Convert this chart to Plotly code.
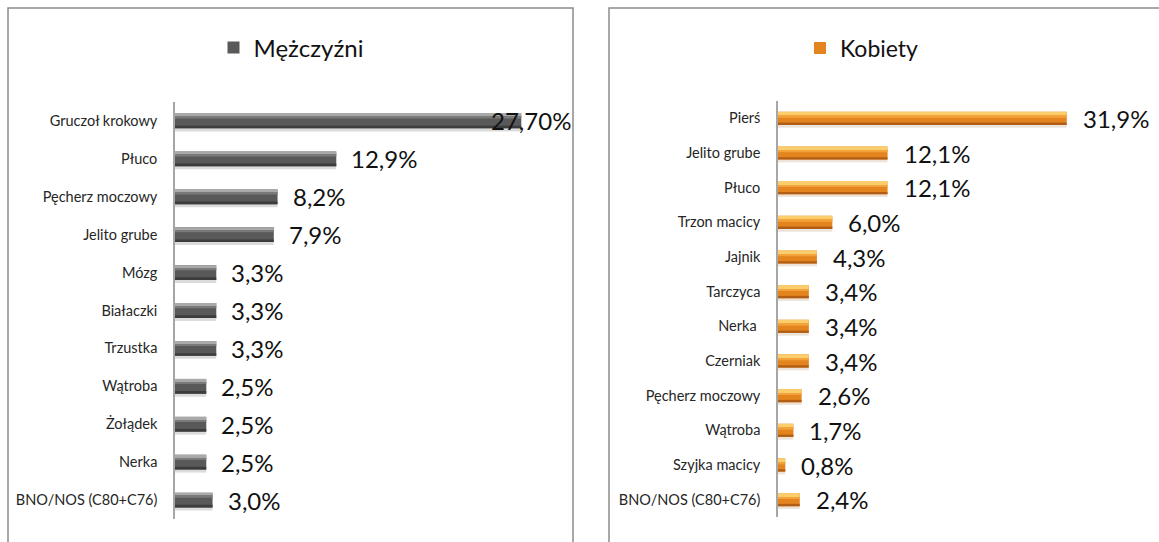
import plotly.graph_objects as go

# ---- data ----
men_categories = ["Gruczoł krokowy", "Płuco", "Pęcherz moczowy", "Jelito grube", "Mózg",
                  "Białaczki", "Trzustka", "Wątroba", "Żołądek", "Nerka", "BNO/NOS (C80+C76)"]
men_values = [27.7, 12.9, 8.2, 7.9, 3.3, 3.3, 3.3, 2.5, 2.5, 2.5, 3.0]
men_labels = ["27,70%", "12,9%", "8,2%", "7,9%", "3,3%", "3,3%", "3,3%", "2,5%", "2,5%", "2,5%", "3,0%"]

women_categories = ["Pierś", "Jelito grube", "Płuco", "Trzon macicy", "Jajnik", "Tarczyca",
                    "Nerka ", "Czerniak", "Pęcherz moczowy", "Wątroba", "Szyjka macicy", "BNO/NOS (C80+C76)"]
women_values = [31.9, 12.1, 12.1, 6.0, 4.3, 3.4, 3.4, 3.4, 2.6, 1.7, 0.8, 2.4]
women_labels = ["31,9%", "12,1%", "12,1%", "6,0%", "4,3%", "3,4%", "3,4%", "3,4%", "2,6%", "1,7%", "0,8%", "2,4%"]

series_names = ["Mężczyźni", "Kobiety"]

# ---- styling ----
W, H = 1159, 542
FONT = "Lato, Carlito, Calibri, sans-serif"

styles = [
    dict(bw=0.39, body="#595959", top="#a9a9a9", topf=0.22, mid="#7a7a7a", midf=0.12,
         bottom="#3c3c3c", botf=0.18, shadow="rgba(0,0,0,0.14)"),
    dict(bw=0.38, body="#e3841f", top="#fbcd6c", topf=0.30, mid="#f2a33a", midf=0.15,
         bottom="#b25e16", botf=0.18, shadow="rgba(120,60,0,0.14)"),
]

# pixel geometry of plot areas
areas = [
    dict(x0=175, x1=175 + 30 * 12.5, y0=102, y1=519, xmax=30),
    dict(x0=778, x1=778 + 36 * 9.05, y0=101, y1=517, xmax=36),
]

fig = go.Figure()

datasets = [(men_categories, men_values, men_labels), (women_categories, women_values, women_labels)]

annotations = []
for i, (cats, vals, labs) in enumerate(datasets):
    st = styles[i]
    bw = st["bw"]
    xa = "x" if i == 0 else "x2"
    ya = "y" if i == 0 else "y2"
    lg = "legend" if i == 0 else "legend2"
    kw = dict(y=cats, x=vals, orientation="h", xaxis=xa, yaxis=ya)
    # soft shadow
    fig.add_trace(go.Bar(**kw, width=bw, offset=-bw / 2 + 0.08,
                         marker=dict(color=st["shadow"], line=dict(width=0)),
                         showlegend=False, hoverinfo="skip"))
    # body
    fig.add_trace(go.Bar(**kw, width=bw, offset=-bw / 2,
                         marker=dict(color=st["body"], line=dict(width=0)),
                         name=series_names[i], legend=lg, showlegend=True))
    # top highlight
    fig.add_trace(go.Bar(**kw, width=bw * st["topf"], offset=-bw / 2,
                         marker=dict(color=st["top"], line=dict(width=0)),
                         showlegend=False, hoverinfo="skip"))
    # transition
    fig.add_trace(go.Bar(**kw, width=bw * st["midf"], offset=-bw / 2 + bw * st["topf"],
                         marker=dict(color=st["mid"], line=dict(width=0)),
                         showlegend=False, hoverinfo="skip"))
    # bottom dark edge
    fig.add_trace(go.Bar(**kw, width=bw * st["botf"], offset=bw / 2 - bw * st["botf"],
                         marker=dict(color=st["bottom"], line=dict(width=0)),
                         showlegend=False, hoverinfo="skip"))
    for j, (c, v, t) in enumerate(zip(cats, vals, labs)):
        shift = 13 if i == 0 else 14
        if i == 0 and j == 0:
            shift = -32  # label pulled back inside the plot area as in the original
        annotations.append(dict(x=v, y=c, xref=xa, yref=ya, text=t, showarrow=False,
                                xanchor="left", yanchor="middle", xshift=shift, yshift=0,
                                font=dict(family=FONT, size=24, color="#111111")))

common_x = dict(showgrid=False, zeroline=False, showline=False, showticklabels=False, ticks="")
common_y = dict(showgrid=False, zeroline=False, showline=True, linecolor="#a6a6a6", linewidth=1.5,
                ticks="", ticklabelstandoff=13, tickfont=dict(family=FONT, size=14.5, color="#262626"),
                type="category")

layout = dict(width=W, height=H, margin=dict(l=0, r=0, t=0, b=0),
              paper_bgcolor="white", plot_bgcolor="rgba(0,0,0,0)", barmode="overlay",
              annotations=annotations, font=dict(family=FONT))

for i, a in enumerate(areas):
    n = len(datasets[i][0])
    xd = [a["x0"] / W, a["x1"] / W]
    yd = [1 - a["y1"] / H, 1 - a["y0"] / H]
    xk = "xaxis" if i == 0 else "xaxis2"
    yk = "yaxis" if i == 0 else "yaxis2"
    layout[xk] = dict(common_x, domain=xd, range=[0, a["xmax"]], anchor="y" if i == 0 else "y2")
    layout[yk] = dict(common_y, domain=yd, range=[n - 0.5, -0.5], anchor="x" if i == 0 else "x2")

legend_common = dict(orientation="h", yanchor="middle", xanchor="center", bgcolor="rgba(0,0,0,0)",
                     font=dict(family=FONT, size=24, color="#111111"), itemwidth=30)
layout["legend"] = dict(legend_common, x=291 / W, y=1 - 48 / H)
layout["legend2"] = dict(legend_common, x=862 / W, y=1 - 48 / H,
                         font=dict(family=FONT, size=23, color="#111111"))

# panel frames
layout["shapes"] = [
    dict(type="rect", xref="paper", yref="paper", x0=8 / W, x1=573 / W, y0=-0.05, y1=1 - 8 / H,
         line=dict(color="#8c8c8c", width=1.5), fillcolor="rgba(0,0,0,0)", layer="below"),
    dict(type="rect", xref="paper", yref="paper", x0=609 / W, x1=1.05, y0=-0.05, y1=1 - 8 / H,
         line=dict(color="#8c8c8c", width=1.5), fillcolor="rgba(0,0,0,0)", layer="below"),
]

fig.update_layout(**layout)
fig.write_html("out.html", config={"displayModeBar": False},
               post_script="document.body.style.margin='0';document.body.style.overflow='hidden';")
